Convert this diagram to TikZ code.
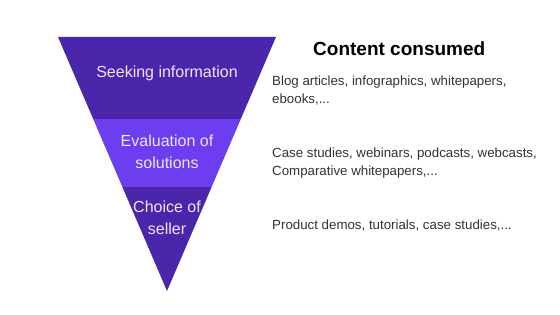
\documentclass[tikz,border=0pt]{standalone}
\usepackage{fontspec}
\setmainfont{Liberation Sans}
\definecolor{funneldark}{HTML}{4C26AA}
\definecolor{funnelmid}{HTML}{6C3EF0}
\definecolor{bandtext}{HTML}{EDE6FF}
\definecolor{bodytext}{HTML}{333333}
\tikzset{
  px/.style={x=1pt,y=-1pt},
  bandlabel/.style={text=bandtext, font=\fontsize{16}{22}\selectfont, align=center, inner sep=0pt},
  titlelabel/.style={text=black, font=\fontsize{19}{22}\selectfont\bfseries, anchor=west, inner sep=0pt},
  bodylabel/.style={text=bodytext, font=\fontsize{13.3}{18}\selectfont, anchor=west, align=left, inner sep=0pt},
}
\begin{document}
\begin{tikzpicture}[px]
\useasboundingbox (0,0) rectangle (560,315);
\fill[white] (0,0) rectangle (560,315);
\coordinate (tl) at (58,37);
\coordinate (tr) at (276,37);
\coordinate (apex) at (167,291);
\begin{scope}
  \clip (tl) -- (tr) -- (apex) -- cycle;
  \fill[funneldark] (40,30) rectangle (300,119);
  \fill[funnelmid] (40,119) rectangle (300,187);
  \fill[funneldark] (40,187) rectangle (300,300);
\end{scope}
\node[bandlabel] (seek) at (167,73) {Seeking information};
\node[bandlabel] (eval) at (167,151.5) {Evaluation of\\solutions};
\node[bandlabel] (choice) at (167,218) {Choice of\\seller};
\node[titlelabel] (title) at (313,49) {Content consumed};
\node[bodylabel] (c1) at (272,91) {Blog articles, infographics, whitepapers,\\ebooks,...};
\node[bodylabel] (c2) at (272,163) {Case studies, webinars, podcasts, webcasts,\\Comparative whitepapers,...};
\node[bodylabel] (c3) at (272,226) {Product demos, tutorials, case studies,...};
\end{tikzpicture}
\end{document}
